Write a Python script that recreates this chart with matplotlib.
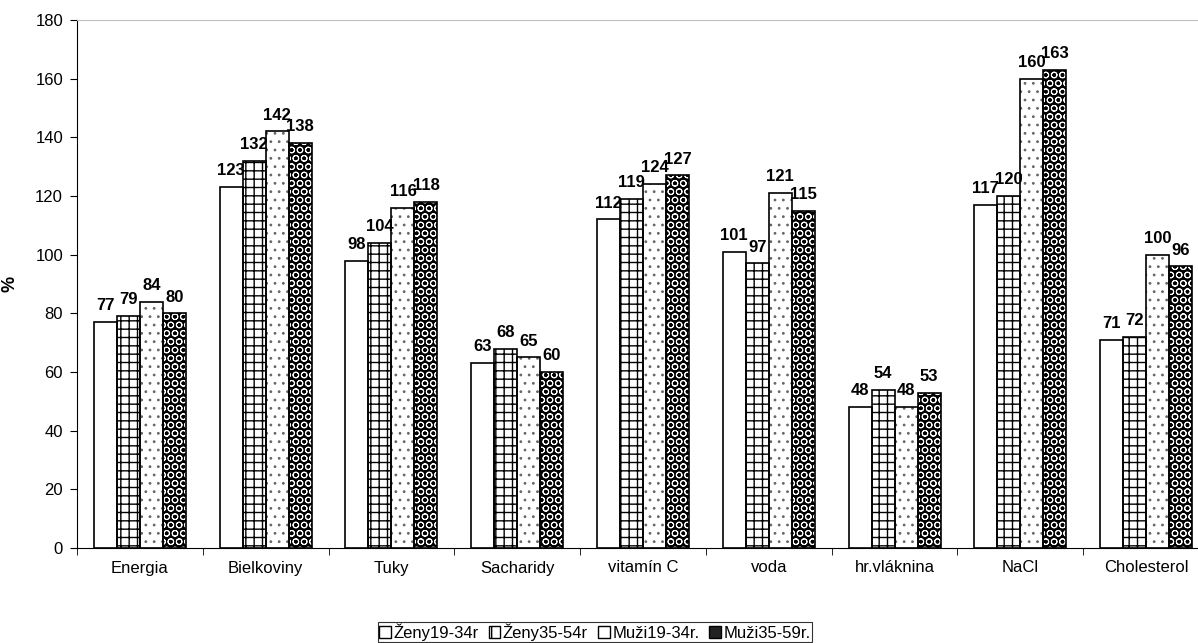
import matplotlib.pyplot as plt
import numpy as np
from matplotlib.patches import Patch

plt.rcParams['font.family'] = ['Liberation Sans', 'DejaVu Sans']
plt.rcParams['hatch.linewidth'] = 1.0

categories = ['Energia', 'Bielkoviny', 'Tuky', 'Sacharidy', 'vitamín C',
              'voda', 'hr.vláknina', 'NaCl', 'Cholesterol']
series_names = ['Ženy19-34r', 'Ženy35-54r', 'Muži19-34r.', 'Muži35-59r.']

zeny_19_34 = [77, 123, 98, 63, 112, 101, 48, 117, 71]
zeny_35_54 = [79, 132, 104, 68, 119, 97, 54, 120, 72]
muzi_19_34 = [84, 142, 116, 65, 124, 121, 48, 160, 100]
muzi_35_59 = [80, 138, 118, 60, 127, 115, 53, 163, 96]

y_ticks = [0, 20, 40, 60, 80, 100, 120, 140, 160, 180]

# face, hatch, hatch colour, hatch width
styles = [
    ('white', None, 'black', 1.0),
    ('white', '++', 'black', 1.0),
    ('white', '..', '#666666', 0.8),
    ('black', 'OO', 'white', 0.7),
]

fig = plt.figure(figsize=(11.98, 6.43), dpi=100)
ax = fig.add_axes([77 / 1198, 1 - 548 / 643, 1132 / 1198, 528 / 643])

x = np.arange(len(categories))
w = 0.183
data = [zeny_19_34, zeny_35_54, muzi_19_34, muzi_35_59]

for i, vals in enumerate(data):
    face, hatch, hcol, hlw = styles[i]
    pos = x + (i - 1.5) * w
    if hatch:
        with plt.rc_context({'hatch.linewidth': hlw}):
            ax.bar(pos, vals, w, facecolor=face, edgecolor=hcol, hatch=hatch,
                   linewidth=0, zorder=2)
        ax.bar(pos, vals, w, fill=False, edgecolor='black', linewidth=1.2, zorder=3)
    else:
        ax.bar(pos, vals, w, facecolor=face, edgecolor='black', linewidth=1.2, zorder=3)
    for xp, v in zip(pos, vals):
        ax.text(xp, v + 3, str(v), ha='center', va='bottom',
                fontsize=12, fontweight='bold', zorder=4)

ax.set_xlim(-0.5, len(categories) - 0.5)
ax.set_ylim(0, 180)
ax.set_yticks(y_ticks)
ax.tick_params(axis='y', labelsize=12, length=5, direction='out', pad=5)
ax.set_xticks(x)
ax.set_xticklabels(categories)
ax.set_xticks(np.arange(-0.5, len(categories)), minor=True)
ax.tick_params(axis='x', which='major', length=0, labelsize=12, pad=9)
ax.tick_params(axis='x', which='minor', length=5, direction='out')
ax.set_ylabel('%', fontsize=13, fontweight='bold')
ax.yaxis.set_label_coords(-(77 - 18) / 1132, 0.5)

ax.spines['top'].set_color('#c0c0c0')
ax.spines['right'].set_color('#c0c0c0')

handles = [
    Patch(facecolor='white', edgecolor='black', linewidth=1),
    Patch(facecolor='white', edgecolor='black', hatch='+', linewidth=1),
    Patch(facecolor='white', edgecolor='black', linewidth=1),
    Patch(facecolor='#222222', edgecolor='black', linewidth=1),
]

leg = fig.legend(handles, series_names, loc='center', bbox_to_anchor=(595 / 1198, 1 - 632 / 643),
                 ncol=4, fontsize=12, frameon=True, fancybox=False, handlelength=0.7,
                 handleheight=0.7, handletextpad=0.15, columnspacing=0.6, borderpad=0.1,
                 borderaxespad=0)
leg.get_frame().set_edgecolor('black')
leg.get_frame().set_linewidth(0.8)

fig.savefig('out.png', dpi=100)
